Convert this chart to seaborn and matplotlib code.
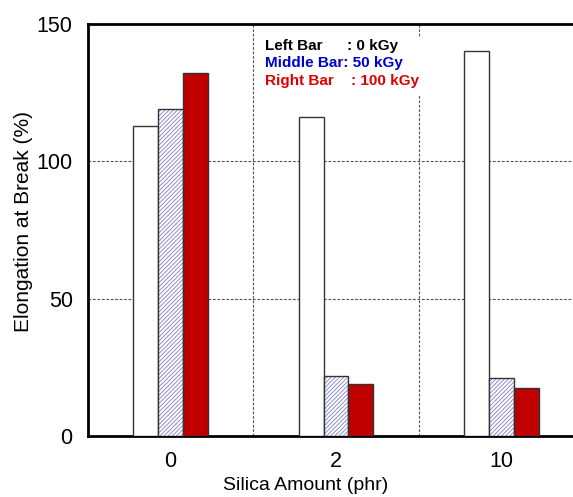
import matplotlib
matplotlib.use("Agg")
import matplotlib.pyplot as plt
import seaborn as sns
import pandas as pd
from matplotlib.patches import Rectangle

silica = ["0", "2", "10"]
doses = ["0 kGy", "50 kGy", "100 kGy"]
elong_0 = [113, 116, 140]
elong_50 = [119, 22, 21]
elong_100 = [132, 19, 17.5]
yticks = [0, 50, 100, 150]

rows = []
for s, a, b, c in zip(silica, elong_0, elong_50, elong_100):
    rows += [(s, doses[0], a), (s, doses[1], b), (s, doses[2], c)]
df = pd.DataFrame(rows, columns=["silica", "dose", "value"])

sns.set_style("white")
plt.rcParams["font.family"] = ["Liberation Sans", "DejaVu Sans"]
plt.rcParams["hatch.linewidth"] = 0.7
plt.rcParams["text.color"] = "black"
plt.rcParams["axes.labelcolor"] = "black"
plt.rcParams["xtick.color"] = "black"
plt.rcParams["ytick.color"] = "black"

fig = plt.figure(figsize=(5.73, 4.97), dpi=100)
ax = fig.add_axes([88 / 573, 1 - 436 / 497, (584 - 88) / 573, (436 - 24) / 497])

sns.barplot(data=df, x="silica", y="value", hue="dose", hue_order=doses,
            order=silica, palette=["white", "white", "#c00000"], width=0.45,
            edgecolor="#333333", linewidth=1.0, saturation=1, legend=False,
            ax=ax, zorder=3)

# hatch the middle (50 kGy) bars
for p in ax.containers[1]:
    p.set_hatch("////////")
    p.set_edgecolor("#8e8ed0")
    p.set_linewidth(0)
    ax.add_patch(Rectangle((p.get_x(), p.get_y()), p.get_width(), p.get_height(),
                           fill=False, edgecolor="#333333", linewidth=1.0, zorder=4))

ax.set_ylim(0, 150)
ax.set_xlim(-0.5, 2.5)
ax.set_yticks(yticks)
for y in yticks[1:3]:
    ax.axhline(y, color="#555555", linestyle=(0, (2.5, 1.5)), linewidth=0.8, zorder=1)
for i in range(len(silica) - 1):
    ax.axvline(i + 0.5, color="#555555", linestyle=(0, (2.5, 1.5)), linewidth=0.8, zorder=1)

for side in ["left", "bottom", "top", "right"]:
    ax.spines[side].set_visible(True)
    ax.spines[side].set_linewidth(2)
    ax.spines[side].set_color("black")

ax.tick_params(axis="both", length=0, labelsize=15.5, labelcolor="black")
ax.tick_params(axis="y", pad=11)
ax.tick_params(axis="x", pad=11)
ax.set_xlabel("Silica Amount (phr)", fontsize=14, color="black")
ax.xaxis.set_label_coords((306 - 88) / 496, (436 - 477) / 412)
ax.set_ylabel("Elongation at Break (%)", fontsize=15, color="black")
ax.yaxis.set_label_coords((33 - 88) / 496, (436 - 222) / 412)

# legend box
fig.patches.append(Rectangle((256 / 573, 1 - 96 / 497), 170 / 573, 59 / 497,
                             transform=fig.transFigure, facecolor="white",
                             edgecolor="none", zorder=5))
labels = ["Left Bar", "Middle Bar: 50 kGy", "Right Bar"]
vals = [": 0 kGy", "", ": 100 kGy"]
colors = ["black", "#0000cc", "#dd0000"]
colx = [347, 347, 351]
for k, (lab, v, c) in enumerate(zip(labels, vals, colors)):
    y = 1 - (46 + 17.5 * k) / 497
    fig.text(265 / 573, y, lab, color=c, fontsize=11, fontweight="bold",
             va="center", ha="left", zorder=6)
    if v:
        fig.text(colx[k] / 573, y, v, color=c, fontsize=11, fontweight="bold",
                 va="center", ha="left", zorder=6)

fig.savefig("out.png", dpi=100)
